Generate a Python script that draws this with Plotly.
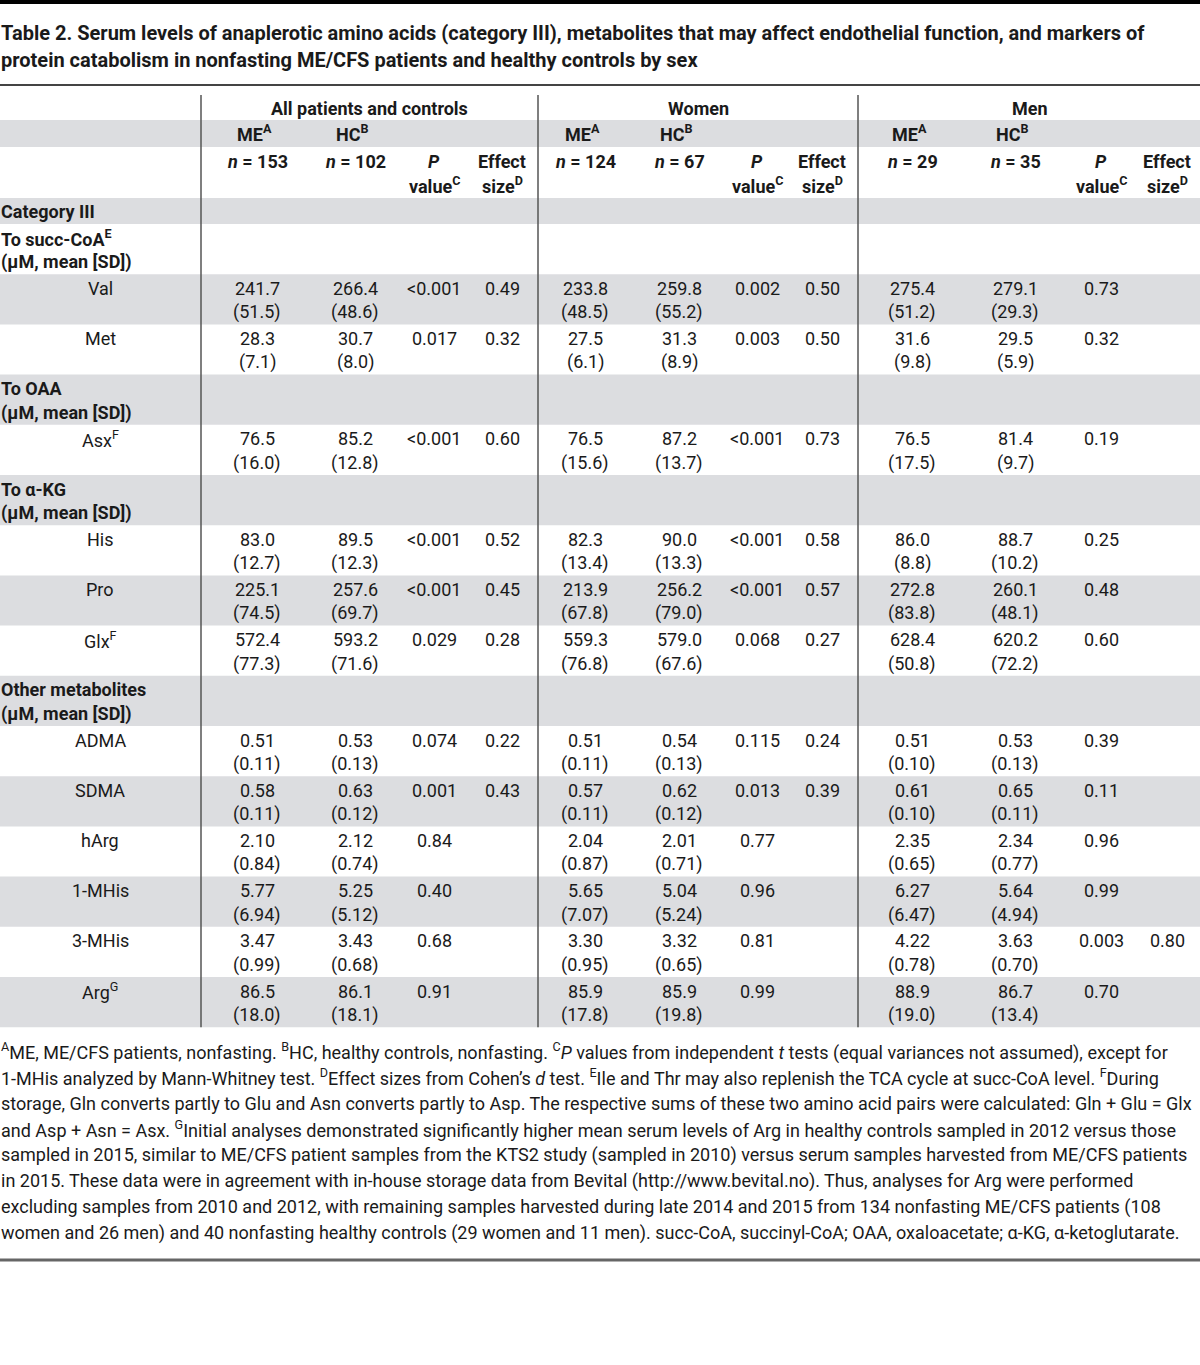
import plotly.graph_objects as go

# ---------------- data ----------------
title_lines = [
    "Table 2. Serum levels of anaplerotic amino acids (category III), metabolites that may affect endothelial function, and markers of",
    "protein catabolism in nonfasting ME/CFS patients and healthy controls by sex",
]
groups = ["All patients and controls", "Women", "Men"]
n_me = [153, 124, 29]
n_hc = [102, 67, 35]

category = "Category III"
section_names = ["To succ-CoA<sup>E</sup>", "To OAA", "To α-KG", "Other metabolites"]
section_unit = "(μM, mean [SD])"
section_members = [
    ["Val", "Met"],
    ["Asx<sup>F</sup>"],
    ["His", "Pro", "Glx<sup>F</sup>"],
    ["ADMA", "SDMA", "hArg", "1-MHis", "3-MHis", "Arg<sup>G</sup>"],
]
metabolites = ["Val", "Met", "Asx<sup>F</sup>", "His", "Pro", "Glx<sup>F</sup>",
               "ADMA", "SDMA", "hArg", "1-MHis", "3-MHis", "Arg<sup>G</sup>"]
decimals = [1, 1, 1, 1, 1, 1, 2, 2, 2, 2, 2, 1]

all_me_mean = [241.7, 28.3, 76.5, 83.0, 225.1, 572.4, 0.51, 0.58, 2.10, 5.77, 3.47, 86.5]
all_me_sd = [51.5, 7.1, 16.0, 12.7, 74.5, 77.3, 0.11, 0.11, 0.84, 6.94, 0.99, 18.0]
all_hc_mean = [266.4, 30.7, 85.2, 89.5, 257.6, 593.2, 0.53, 0.63, 2.12, 5.25, 3.43, 86.1]
all_hc_sd = [48.6, 8.0, 12.8, 12.3, 69.7, 71.6, 0.13, 0.12, 0.74, 5.12, 0.68, 18.1]
all_p = ["<0.001", "0.017", "<0.001", "<0.001", "<0.001", "0.029", "0.074", "0.001", "0.84", "0.40", "0.68", "0.91"]
all_eff = [0.49, 0.32, 0.60, 0.52, 0.45, 0.28, 0.22, 0.43, None, None, None, None]

women_me_mean = [233.8, 27.5, 76.5, 82.3, 213.9, 559.3, 0.51, 0.57, 2.04, 5.65, 3.30, 85.9]
women_me_sd = [48.5, 6.1, 15.6, 13.4, 67.8, 76.8, 0.11, 0.11, 0.87, 7.07, 0.95, 17.8]
women_hc_mean = [259.8, 31.3, 87.2, 90.0, 256.2, 579.0, 0.54, 0.62, 2.01, 5.04, 3.32, 85.9]
women_hc_sd = [55.2, 8.9, 13.7, 13.3, 79.0, 67.6, 0.13, 0.12, 0.71, 5.24, 0.65, 19.8]
women_p = ["0.002", "0.003", "<0.001", "<0.001", "<0.001", "0.068", "0.115", "0.013", "0.77", "0.96", "0.81", "0.99"]
women_eff = [0.50, 0.50, 0.73, 0.58, 0.57, 0.27, 0.24, 0.39, None, None, None, None]

men_me_mean = [275.4, 31.6, 76.5, 86.0, 272.8, 628.4, 0.51, 0.61, 2.35, 6.27, 4.22, 88.9]
men_me_sd = [51.2, 9.8, 17.5, 8.8, 83.8, 50.8, 0.10, 0.10, 0.65, 6.47, 0.78, 19.0]
men_hc_mean = [279.1, 29.5, 81.4, 88.7, 260.1, 620.2, 0.53, 0.65, 2.34, 5.64, 3.63, 86.7]
men_hc_sd = [29.3, 5.9, 9.7, 10.2, 48.1, 72.2, 0.13, 0.11, 0.77, 4.94, 0.70, 13.4]
men_p = ["0.73", "0.32", "0.19", "0.25", "0.48", "0.60", "0.39", "0.11", "0.96", "0.99", "0.003", "0.70"]
men_eff = [None, None, None, None, None, None, None, None, None, None, 0.80, None]

footnotes = [
    "<sup>A</sup>ME, ME/CFS patients, nonfasting. <sup>B</sup>HC, healthy controls, nonfasting. <sup>C</sup><i>P</i> values from independent <i>t</i> tests (equal variances not assumed), except for",
    "1-MHis analyzed by Mann-Whitney test. <sup>D</sup>Effect sizes from Cohen’s <i>d</i> test. <sup>E</sup>Ile and Thr may also replenish the TCA cycle at succ-CoA level. <sup>F</sup>During",
    "storage, Gln converts partly to Glu and Asn converts partly to Asp. The respective sums of these two amino acid pairs were calculated: Gln + Glu = Glx",
    "and Asp + Asn = Asx. <sup>G</sup>Initial analyses demonstrated significantly higher mean serum levels of Arg in healthy controls sampled in 2012 versus those",
    "sampled in 2015, similar to ME/CFS patient samples from the KTS2 study (sampled in 2010) versus serum samples harvested from ME/CFS patients",
    "in 2015. These data were in agreement with in-house storage data from Bevital (http://www.bevital.no). Thus, analyses for Arg were performed",
    "excluding samples from 2010 and 2012, with remaining samples harvested during late 2014 and 2015 from 134 nonfasting ME/CFS patients (108",
    "women and 26 men) and 40 nonfasting healthy controls (29 women and 11 men). succ-CoA, succinyl-CoA; OAA, oxaloacetate; α-KG, α-ketoglutarate.",
]

# ---------------- layout constants ----------------
W, H = 1200, 1365
FONT = "Roboto, 'Open Sans', sans-serif"
TXT = "#1a1a1a"
SHADE = "#dcdde0"
FS = 18
group_cols = [[257, 355, 434, 502], [585, 679, 757, 822], [912, 1015, 1101, 1167]]
group_centers = [369, 698, 1030]
vlines = [201, 538, 858]
label_x = 100
body_top = 224
row_h = 50.2

shapes = []
ann = []


def rect(y0, y1, color):
    shapes.append(dict(type="rect", xref="x", yref="y", x0=0, x1=W, y0=y0, y1=y1,
                       fillcolor=color, line=dict(width=0), layer="below"))


def hline(y, width, color):
    shapes.append(dict(type="line", xref="x", yref="y", x0=0, x1=W, y0=y, y1=y,
                       line=dict(color=color, width=width)))


def text(x, y, s, anchor="center", size=FS, bold=False):
    if bold:
        s = "<b>" + s + "</b>"
    ann.append(dict(x=x, y=y, xref="x", yref="y", text=s, showarrow=False,
                    xanchor=anchor, yanchor="middle", borderpad=0,
                    font=dict(family=FONT, size=size, color=TXT)))


# top bar, title
shapes.append(dict(type="rect", xref="x", yref="y", x0=0, x1=W, y0=0, y1=4,
                   fillcolor="#000000", line=dict(width=0)))
text(0, 33, title_lines[0], anchor="left", size=20, bold=True)
text(0, 60, title_lines[1], anchor="left", size=20, bold=True)
hline(85, 2, "#444444")

# header
rect(120, 147, SHADE)
rect(198, 224, SHADE)
for g, name in enumerate(groups):
    cols = group_cols[g]
    text(group_centers[g], 108, name, bold=True)
    text(cols[0] - 3, 133, "ME<sup>A</sup>", bold=True)
    text(cols[1] - 3, 133, "HC<sup>B</sup>", bold=True)
    text(cols[0], 161, "<i>n</i> = %d" % n_me[g], bold=True)
    text(cols[1], 161, "<i>n</i> = %d" % n_hc[g], bold=True)
    text(cols[2], 161, "<i>P</i>", bold=True)
    text(cols[2], 185, "value<sup>C</sup>", bold=True)
    text(cols[3], 161, "Effect", bold=True)
    text(cols[3], 185, "size<sup>D</sup>", bold=True)
text(0, 211, category, anchor="left", bold=True)

# body
series = [
    (all_me_mean, all_me_sd, all_hc_mean, all_hc_sd, all_p, all_eff),
    (women_me_mean, women_me_sd, women_hc_mean, women_hc_sd, women_p, women_eff),
    (men_me_mean, men_me_sd, men_hc_mean, men_hc_sd, men_p, men_eff),
]
r = 0
m = 0
for s_name, members in zip(section_names, section_members):
    top = body_top + r * row_h
    if r % 2 == 1:
        rect(top, top + row_h, SHADE)
    text(0, top + 14, s_name, anchor="left", bold=True)
    text(0, top + 38, section_unit, anchor="left", bold=True)
    r += 1
    for name in members:
        top = body_top + r * row_h
        if r % 2 == 1:
            rect(top, top + row_h, SHADE)
        d = decimals[m]
        text(label_x, top + 14, name)
        for g, (mm, ms, hm, hs, p, e) in enumerate(series):
            cols = group_cols[g]
            text(cols[0], top + 14, f"{mm[m]:.{d}f}")
            text(cols[0], top + 38, f"({ms[m]:.{d}f})")
            text(cols[1], top + 14, f"{hm[m]:.{d}f}")
            text(cols[1], top + 38, f"({hs[m]:.{d}f})")
            text(cols[2], top + 14, p[m])
            if e[m] is not None:
                text(cols[3], top + 14, f"{e[m]:.2f}")
        r += 1
        m += 1
table_bottom = body_top + r * row_h

for x in vlines:
    shapes.append(dict(type="line", xref="x", yref="y", x0=x, x1=x, y0=95, y1=table_bottom,
                       line=dict(color="#555555", width=1.5)))

# footnotes
for i, line in enumerate(footnotes):
    text(0, 1051 + i * 26, line, anchor="left", size=18)
hline(1260, 3, "#666666")

fig = go.Figure()
fig.add_trace(go.Scatter(x=[0, W], y=[0, H], mode="markers", marker=dict(opacity=0), hoverinfo="skip", showlegend=False))
fig.update_layout(
    width=W, height=H, margin=dict(l=0, r=0, t=0, b=0),
    paper_bgcolor="white", plot_bgcolor="white",
    xaxis=dict(range=[0, W], visible=False, fixedrange=True),
    yaxis=dict(range=[H, 0], visible=False, fixedrange=True),
    shapes=shapes, annotations=ann, showlegend=False,
)
fig.write_html("out.html", config={"displayModeBar": False},
               post_script="document.body.style.margin='0';document.body.style.overflow='hidden';")
